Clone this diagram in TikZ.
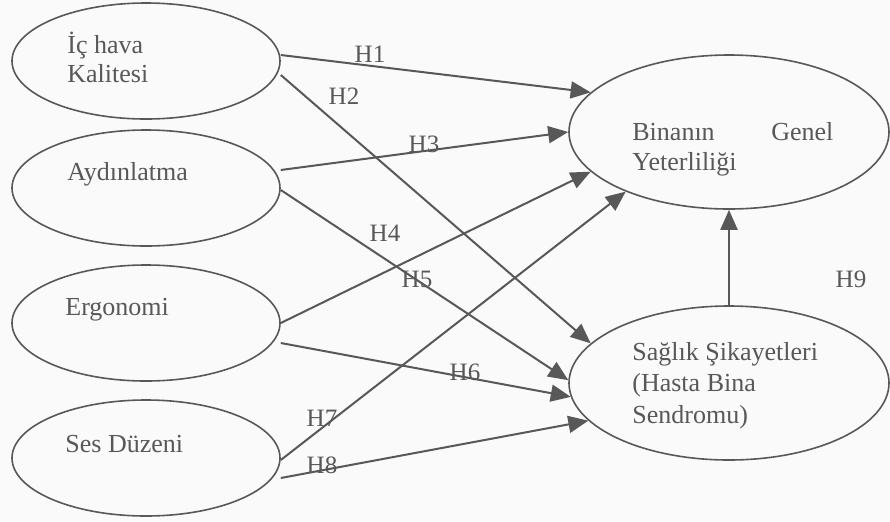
\documentclass[tikz,border=0pt]{standalone}
\usepackage{fontspec}
\setmainfont{Liberation Serif}
\usepackage{tikz}
\usetikzlibrary{shapes.geometric, arrows.meta}
\definecolor{inkgray}{RGB}{88, 88, 88}
\definecolor{papergray}{RGB}{250, 250, 250}

\begin{document}
\begin{tikzpicture}[x=0.5pt, y=-0.5pt,
  blob/.style={draw=inkgray, ellipse, line width=0.8pt, inner sep=0pt,
               minimum width=134pt, minimum height=58pt},
  bigblob/.style={blob, minimum width=160pt, minimum height=77pt},
  txt/.style={inner sep=0pt, anchor=base west, align=left, text=inkgray,
              font=\fontsize{13}{14.5}\selectfont},
  hlab/.style={inner sep=0pt, text=inkgray, font=\fontsize{12.5}{14}\selectfont},
  arr/.style={-{Triangle[length=10pt, width=8.5pt]}, line width=1pt, draw=inkgray},
]
\useasboundingbox[fill=papergray] (0,0) rectangle (890,521);

% Factors on the left (text placed at the last baseline)
\node[blob] (ic) at (146,61) {};
\node[blob] (ayd) at (146,188) {};
\node[blob] (erg) at (146,323) {};
\node[blob] (ses) at (146,458) {};
\node[txt] (ictxt) at (67,82) {İç hava\\Kalitesi};
\node[txt] (aydtxt) at (67,180) {Aydınlatma};
\node[txt] (ergtxt) at (65,315) {Ergonomi};
\node[txt] (sestxt) at (65,452) {Ses Düzeni};

% Outcomes on the right
\node[bigblob] (bina) at (729,132) {};
\node[bigblob] (sag) at (729,383) {};
\node[txt, text width=100.5pt, font=\fontsize{13}{15}\selectfont] (binatxt) at (632,140)
  {Binanın\hfill Genel\\Yeterliliği};
\node[txt, font=\fontsize{13}{15.75}\selectfont] (sagtxt) at (632,423)
  {Sağlık Şikayetleri\\(Hasta Bina\\Sendromu)};

% Hypotheses
\draw[arr] ([yshift=3pt]ic.east) -- (bina.164);
\draw[arr] ([yshift=-7pt]ic.east) -- (sag.164);
\draw[arr] ([yshift=9pt]ayd.east) -- (bina.180);
\draw[arr] ([yshift=-1pt]ayd.east) -- (sag.179);
\draw[arr] (erg.east) -- (bina.196);
\draw[arr] ([yshift=-10pt]erg.east) -- (sag.185);
\draw[arr] ([yshift=-1pt]ses.east) -- (bina.210);
\draw[arr] ([yshift=-10pt]ses.east) -- (sag.195);
\draw[arr] (sag.north) -- (bina.south);

% Labels
\node[hlab] (h1) at (370,54) {H1};
\node[hlab] (h2) at (344,96) {H2};
\node[hlab] (h3) at (424,144) {H3};
\node[hlab] (h4) at (385,233) {H4};
\node[hlab] (h5) at (417,279) {H5};
\node[hlab] (h6) at (465,372) {H6};
\node[hlab] (h7) at (322,418) {H7};
\node[hlab] (h8) at (322,465) {H8};
\node[hlab] (h9) at (851,279) {H9};
\end{tikzpicture}
\end{document}
